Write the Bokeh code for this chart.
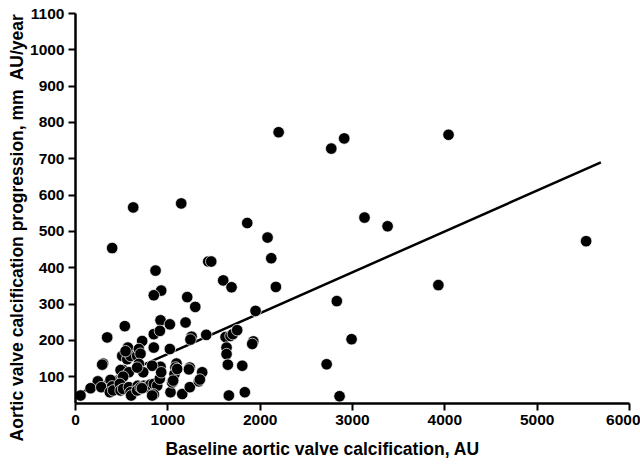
from bokeh.plotting import figure
from bokeh.models import Title, FixedTicker, Range1d
from bokeh.embed import file_html
from bokeh.resources import INLINE

# Baseline aortic valve calcification (AU)
x_vals = [2200, 2770, 2910, 4040, 3130, 3380, 5530, 1860, 2080, 2120,
          2170, 3930, 1950, 2830, 2990, 2720, 2860, 1925, 1914, 625,
          1145, 397, 867, 1438, 1470, 1600, 1690, 928, 848, 1210,
          1297, 534, 921, 1022, 1192, 848, 914, 343, 722, 1257,
          1245, 1416, 1625, 1679, 1704, 1751, 1636, 1636, 1650, 1806,
          1661, 1834, 848, 1022, 506, 560, 596, 567, 542, 668,
          686, 704, 299, 686, 921, 830, 1094, 1083, 1072, 1238,
          1228, 1372, 516, 488, 733, 578, 668, 495, 516, 379,
          242, 163, 279, 54, 397, 372, 408, 480, 488, 516,
          578, 596, 603, 675, 668, 740, 776, 812, 848, 885,
          913, 928, 848, 830, 1029, 1047, 1058, 1156, 1238, 1336,
          1347, 1101, 289, 704, 720]
# Aortic valve calcification progression (AU/year)
y_vals = [773, 728, 756, 766, 538, 514, 473, 523, 483, 426,
          347, 352, 281, 308, 203, 134, 46, 197, 190, 566,
          577, 454, 392, 417, 417, 365, 346, 337, 324, 319,
          292, 239, 255, 244, 249, 217, 226, 208, 198, 210,
          202, 215, 209, 212, 217, 228, 180, 162, 133, 130,
          48, 57, 180, 176, 157, 148, 157, 180, 170, 157,
          176, 163, 136, 135, 127, 130, 136, 125, 107, 125,
          120, 112, 118, 118, 112, 112, 125, 92, 100, 91,
          87, 68, 71, 48, 73, 57, 62, 80, 62, 66,
          71, 57, 48, 75, 62, 75, 71, 78, 80, 75,
          94, 112, 51, 48, 57, 84, 89, 52, 71, 87,
          92, 121, 133, 70, 68]

# Regression line end points
fit_x = [0, 5690]
fit_y = [50, 690]

x_ticks = [0, 1000, 2000, 3000, 4000, 5000, 6000]
y_ticks = [100, 200, 300, 400, 500, 600, 700, 800, 900, 1000, 1100]

FONT = "Liberation Sans"

p = figure(width=640, height=470, output_backend="svg", toolbar_location=None,
           x_range=Range1d(0, 6000), y_range=Range1d(26, 1100),
           min_border_left=75, min_border_right=11, min_border_top=13,
           min_border_bottom=67)
p.grid.visible = False
p.outline_line_color = None
p.background_fill_color = "white"

for ax in (p.xaxis[0], p.yaxis[0]):
    ax.axis_line_width = 2.5
    ax.axis_line_color = "black"
    ax.major_tick_line_width = 2
    ax.major_tick_line_color = "black"
    ax.major_tick_out = 7
    ax.major_tick_in = 0
    ax.minor_tick_line_color = None
    ax.major_label_text_font = FONT
    ax.major_label_text_font_style = "bold"
    ax.major_label_text_font_size = "15.5px"
    ax.major_label_text_color = "black"
    ax.major_label_standoff = 4

p.xaxis[0].ticker = FixedTicker(ticks=x_ticks)
p.yaxis[0].ticker = FixedTicker(ticks=y_ticks)

p.line(fit_x, fit_y, line_color="black", line_width=2.5)
p.scatter(x_vals, y_vals, size=11.5, fill_color="black", line_color="white",
          line_width=0.7)

xt = Title(text="Baseline aortic valve calcification, AU", align="left",
           offset=90, text_font=FONT, text_font_style="bold",
           text_font_size="17.5px", text_color="black", standoff=18)
p.add_layout(xt, "below")
yt = Title(text="Aortic valve calcification progression, mm\u00a0 AU/year",
           align="right", offset=0, text_font=FONT, text_font_style="bold",
           text_font_size="17.5px", text_color="black", standoff=2)
p.add_layout(yt, "left")

open("out.html", "w").write(file_html(p, INLINE))
